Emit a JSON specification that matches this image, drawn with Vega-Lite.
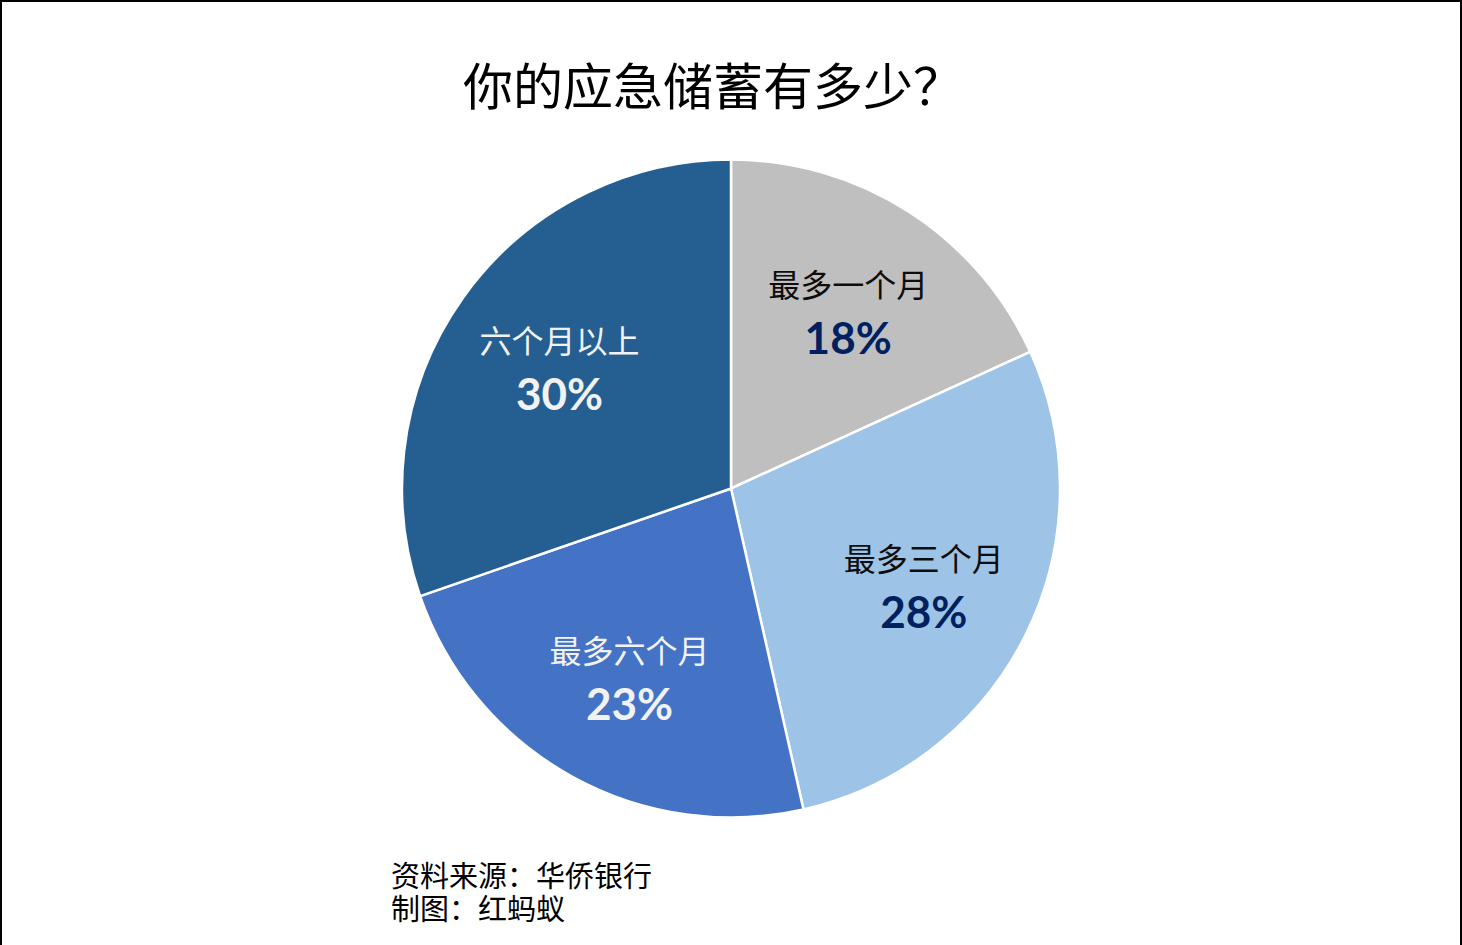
{
  "$schema": "https://vega.github.io/schema/vega-lite/v6.json",
  "autosize": "pad",
  "padding": 0,
  "background": "white",
  "title": {
    "text": ["资料来源：华侨银行", "制图：红蚂蚁"],
    "orient": "top",
    "anchor": "start",
    "align": "left",
    "dx": 391,
    "offset": -926,
    "font": "Noto Sans CJK SC",
    "fontSize": 29,
    "fontWeight": "normal",
    "lineHeight": 33,
    "color": "#000000"
  },
  "vconcat": [
    {
      "width": 1460,
      "height": 975,
      "view": {"stroke": "#000000", "strokeWidth": 2},
      "title": {
        "text": "你的应急储蓄有多少？",
        "orient": "top",
        "anchor": "middle",
        "dx": -18,
        "offset": -114,
        "font": "Noto Sans CJK SC",
        "fontSize": 50,
        "fontWeight": "normal",
        "color": "#000000"
      },
      "data": {
        "values": [
          {"category": "最多一个月", "share": 0.18, "rank": 1},
          {"category": "最多三个月", "share": 0.28, "rank": 2},
          {"category": "最多六个月", "share": 0.23, "rank": 3},
          {"category": "六个月以上", "share": 0.30, "rank": 4}
        ]
      },
      "layer": [
        {
          "mark": {"type": "arc", "outerRadius": 329, "stroke": "#FFFFFF", "strokeWidth": 2.5},
          "encoding": {
            "theta": {"field": "share", "type": "quantitative", "stack": true},
            "order": {"field": "rank", "type": "quantitative"},
            "color": {
              "field": "category",
              "type": "nominal",
              "scale": {
                "domain": ["最多一个月", "最多三个月", "最多六个月", "六个月以上"],
                "range": ["#BFBFBF", "#9DC3E6", "#4472C4", "#255E91"]
              },
              "legend": null
            }
          }
        },
        {
          "mark": {"type": "text", "radius": 213, "dx": 2, "dy": -22, "font": "Noto Sans CJK SC", "fontSize": 32, "align": "center", "baseline": "middle"},
          "encoding": {
            "theta": {"field": "share", "type": "quantitative", "stack": true},
            "order": {"field": "rank", "type": "quantitative"},
            "text": {"field": "category", "type": "nominal"},
            "color": {"condition": {"test": "datum.rank > 2", "value": "#F2F2F2"}, "value": "#0D0D0D"}
          }
        },
        {
          "mark": {"type": "text", "radius": 213, "dx": 2, "dy": 32, "font": "Lato", "fontSize": 44, "fontWeight": "bold", "align": "center", "baseline": "middle"},
          "encoding": {
            "theta": {"field": "share", "type": "quantitative", "stack": true},
            "order": {"field": "rank", "type": "quantitative"},
            "text": {"field": "share", "type": "quantitative", "format": ".0%"},
            "color": {"condition": {"test": "datum.rank > 2", "value": "#F2F2F2"}, "value": "#002060"}
          }
        }
      ]
    }
  ]
}
